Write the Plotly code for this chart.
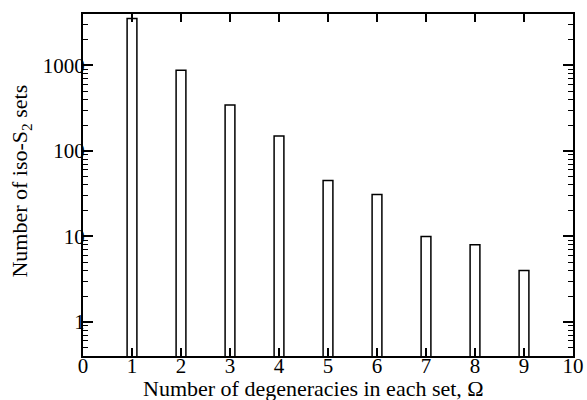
import plotly.graph_objects as go

# Number of degeneracies per set and how many iso-S2 sets have that count
omega = [1, 2, 3, 4, 5, 6, 7, 8, 9]
n_sets = [3550, 880, 345, 150, 45, 31, 10, 8, 4]

x_ticks = list(range(0, 11))
y_major = [1, 10, 100, 1000]
y_minor = [m * 10 ** e for e in range(-1, 4) for m in range(2, 10)]

x_title = "Number of degeneracies in each set, Ω"
y_title = "Number of iso-S<sub>2</sub> sets"

font_family = "Liberation Serif"

fig = go.Figure(
    go.Bar(
        x=omega,
        y=n_sets,
        width=0.2,
        marker=dict(color="white", line=dict(color="black", width=1.5)),
    )
)

fig.update_layout(
    width=587,
    height=400,
    margin=dict(l=83, r=14, t=14, b=44),
    paper_bgcolor="white",
    plot_bgcolor="white",
    showlegend=False,
    font=dict(family=font_family, size=22, color="black"),
)

fig.update_xaxes(
    range=[0, 10],
    tickvals=x_ticks,
    ticks="inside",
    ticklen=8,
    tickwidth=1.5,
    tickcolor="black",
    showline=True,
    linecolor="black",
    linewidth=2,
    mirror="allticks",
    showgrid=False,
    zeroline=False,
    automargin=False,
    tickfont=dict(size=21),
    ticklabelstandoff=-10,
)

fig.update_yaxes(
    type="log",
    range=[-0.398, 3.602],
    tickvals=y_major,
    ticktext=[str(v) for v in y_major],
    ticks="inside",
    ticklen=10,
    tickwidth=1.5,
    tickcolor="black",
    minor=dict(tickvals=y_minor, ticks="inside", ticklen=5, tickwidth=1.2, tickcolor="black"),
    showline=True,
    linecolor="black",
    linewidth=2,
    mirror="allticks",
    showgrid=False,
    zeroline=False,
    automargin=False,
    tickfont=dict(size=21),
    ticklabelstandoff=-8,
)

# Axis titles
fig.add_annotation(
    text=x_title, xref="paper", yref="paper", x=0.47, y=-0.095,
    xanchor="center", yanchor="middle", showarrow=False, font=dict(size=22),
)
fig.add_annotation(
    text=y_title, xref="paper", yref="paper", x=-0.1265, y=0.51,
    xanchor="center", yanchor="middle", textangle=-90, showarrow=False, font=dict(size=22),
)

fig.write_html("out.html")
